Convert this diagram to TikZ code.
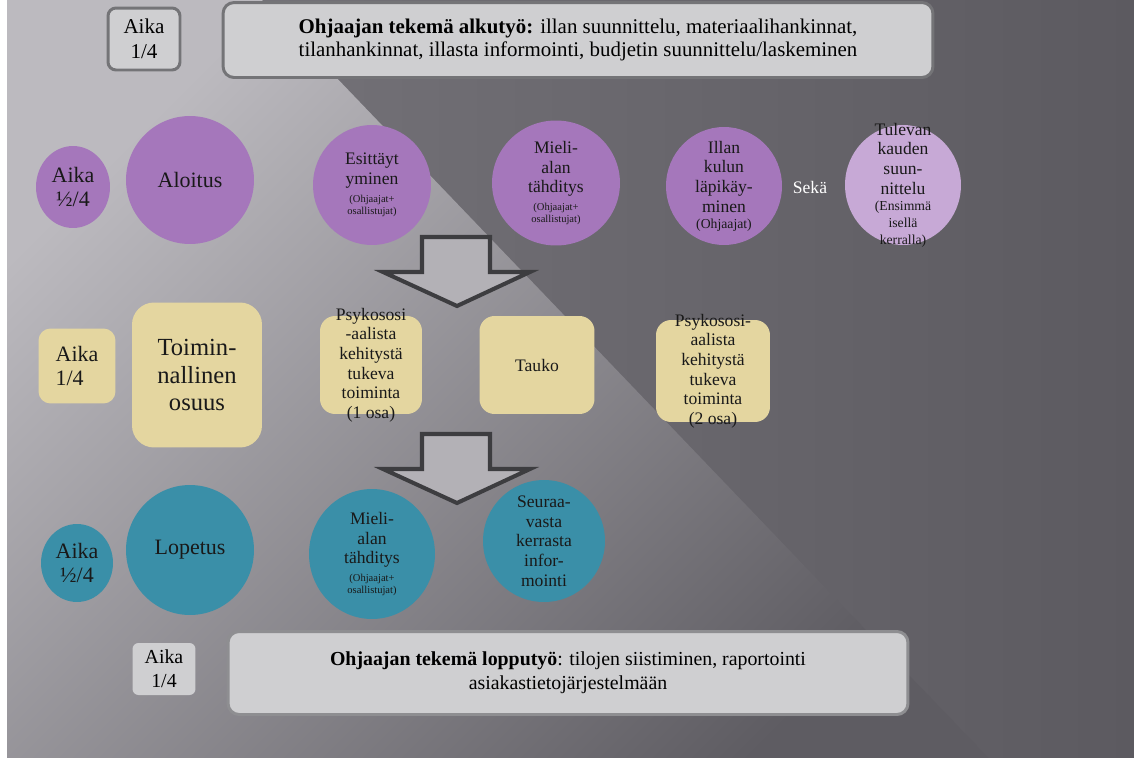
\documentclass[tikz,border=0pt]{standalone}
\usepackage{fontspec}
\setmainfont{Liberation Serif}
\usetikzlibrary{shapes.geometric}
\definecolor{bgleft}{HTML}{7A787E}
\definecolor{bgright}{HTML}{5C5A60}
\definecolor{hehku}{HTML}{BCBABF}
\definecolor{hehkureuna}{HTML}{5E5C62}
\definecolor{violetti}{HTML}{A577BB}
\definecolor{vaalvioletti}{HTML}{C7A9D6}
\definecolor{hiekka}{HTML}{E4D6A0}
\definecolor{turkoosi}{HTML}{3A8FA8}
\definecolor{paperi}{HTML}{CFCFD1}
\definecolor{reuna}{HTML}{747477}
\definecolor{reunavaalea}{HTML}{8E8E91}
\definecolor{nuoli}{HTML}{B3B1B6}
\definecolor{nuolireuna}{HTML}{3D3D40}
\newcommand{\pien}{\fontsize{6}{7}\selectfont}
\newcommand{\keski}{\fontsize{7.8}{9}\selectfont}

\begin{document}
\begin{tikzpicture}[
    x=0.02cm, y=-0.02cm,
    font=\rmfamily\fontsize{10}{11.2}\selectfont,
    pallo/.style={ellipse, fill=#1, inner sep=-16pt, align=center, text=black!90},
    pallo/.default=violetti,
    tyyny/.style={rectangle, rounded corners=0.3cm, fill=hiekka, inner xsep=0pt,
                  inner ysep=-10pt, align=center, text=black!90},
    kehys/.style={rectangle, rounded corners=0.22cm, fill=paperi, draw=reuna,
                  line width=1.7pt, align=center, font=\rmfamily\fontsize{11.3}{13.5}\selectfont},
    iso/.style={font=\rmfamily\fontsize{12.5}{14}\selectfont},
    nuolimuoto/.style={fill=nuoli, draw=nuolireuna, line width=2.3pt},
]
\useasboundingbox (0,0) rectangle (1134,758);

% ---- tausta ----
\fill[white] (0,0) rectangle (1134,758);
\shade[left color=bgleft, right color=bgright] (7,0) rectangle (1134,758);
\shade[top color=hehku, bottom color=hehkureuna, shading angle=45]
    (7,0) -- (262,0) -- (1000,770) -- (7,770) -- cycle;

% ---- alkutyo ----
\node[kehys, minimum width=1.44cm, minimum height=1.24cm, rounded corners=0.16cm,
      font=\rmfamily\fontsize{12}{14}\selectfont] (aikaAlku) at (144,39) {Aika\\1/4};
\node[kehys, minimum width=14.2cm, minimum height=1.5cm,
      font=\rmfamily\fontsize{11.9}{13.6}\selectfont] (alkutyo) at (578,40)
    {\textbf{Ohjaajan tekemä alkutyö:} illan suunnittelu, materiaalihankinnat,\\
     tilanhankinnat, illasta informointi, budjetin suunnittelu/laskeminen};

% ---- aloitus ----
\node[pallo, iso, minimum width=1.48cm, minimum height=1.64cm] (aikaAloitus) at (73,187) {Aika\\½/4};
\node[pallo, iso, minimum size=2.56cm] (aloitus) at (190,180) {Aloitus};
\node[pallo, minimum width=2.36cm, minimum height=2.4cm] (esittaytyminen) at (372,185)
    {Esittäyt\\yminen\\[-1.2pt]\pien(Ohjaajat+\\[-4.2pt]\pien osallistujat)};
\node[pallo, minimum width=2.56cm, minimum height=2.5cm] (mielialaAlku) at (556,183)
    {Mieli-\\alan\\tähditys\\[-1.2pt]\pien(Ohjaajat+\\[-4.2pt]\pien osallistujat)};
\node[pallo, minimum width=2.32cm, minimum height=2.36cm] (illanKulku) at (724,186)
    {Illan\\kulun\\läpikäy-\\minen\\[-2pt]\keski(Ohjaajat)};
\node[text=white] (seka) at (810,187) {Sekä};
\node[pallo=vaalvioletti, minimum width=2.32cm, minimum height=2.4cm] (tulevaKausi) at (903,185)
    {Tulevan\\kauden\\suun-\\nittelu\\[-1.7pt]\keski(Ensimmä\\[-1.7pt]\keski isellä\\[-1.7pt]\keski kerralla)};

% ---- nuolet ----
\foreach \ylin in {237,434}
    \draw[nuolimuoto] (422,\ylin) -- (490,\ylin) -- (490,\ylin+35) -- (530,\ylin+35)
        -- (457,\ylin+69) -- (383,\ylin+35) -- (422,\ylin+35) -- cycle;

% ---- toiminnallinen osuus ----
\node[tyyny, iso, minimum width=1.54cm, minimum height=1.5cm, rounded corners=0.24cm,
      align=left] (aikaToiminta) at (77,366) {Aika\\1/4};
\node[tyyny, minimum width=2.6cm, minimum height=2.9cm, rounded corners=0.44cm,
      font=\rmfamily\fontsize{14}{15.5}\selectfont] (toiminnallinen) at (197,375) {Toimin-\\nallinen\\osuus};
\node[tyyny, minimum width=2.04cm, minimum height=1.96cm] (psykososiaalinen1) at (371,365)
    {Psykososi\\-aalista\\kehitystä\\tukeva\\toiminta\\(1 osa)};
\node[tyyny, minimum width=2.3cm, minimum height=1.96cm] (tauko) at (537,365) {Tauko};
\node[tyyny, minimum width=2.28cm, minimum height=2.04cm] (psykososiaalinen2) at (713,371)
    {Psykososi-\\aalista\\kehitystä\\tukeva\\toiminta\\(2 osa)};

% ---- lopetus ----
\node[pallo=turkoosi, iso, minimum width=1.44cm, minimum height=1.56cm] (aikaLopetus) at (77,563) {Aika\\½/4};
\node[pallo=turkoosi, iso, minimum width=2.56cm, minimum height=2.6cm] (lopetus) at (190,550) {Lopetus};
\node[pallo=turkoosi, minimum width=2.52cm, minimum height=2.6cm] (mielialaLoppu) at (372,554)
    {Mieli-\\alan\\tähditys\\[-1.2pt]\pien(Ohjaajat+\\[-4.2pt]\pien osallistujat)};
\node[pallo=turkoosi, minimum width=2.44cm, minimum height=2.44cm] (seuraavasta) at (544,541)
    {Seuraa-\\vasta\\kerrasta\\infor-\\mointi};

% ---- lopputyo ----
\node[kehys, draw=none, minimum width=1.26cm, minimum height=1.04cm, rounded corners=0.12cm]
    (aikaLoppu) at (164,669) {Aika\\1/4};
\node[kehys, draw=reunavaalea, minimum width=13.6cm, minimum height=1.66cm] (lopputyo) at (568,673)
    {\textbf{Ohjaajan tekemä lopputyö}: tilojen siistiminen, raportointi\\
     asiakastietojärjestelmään};
\end{tikzpicture}
\end{document}
